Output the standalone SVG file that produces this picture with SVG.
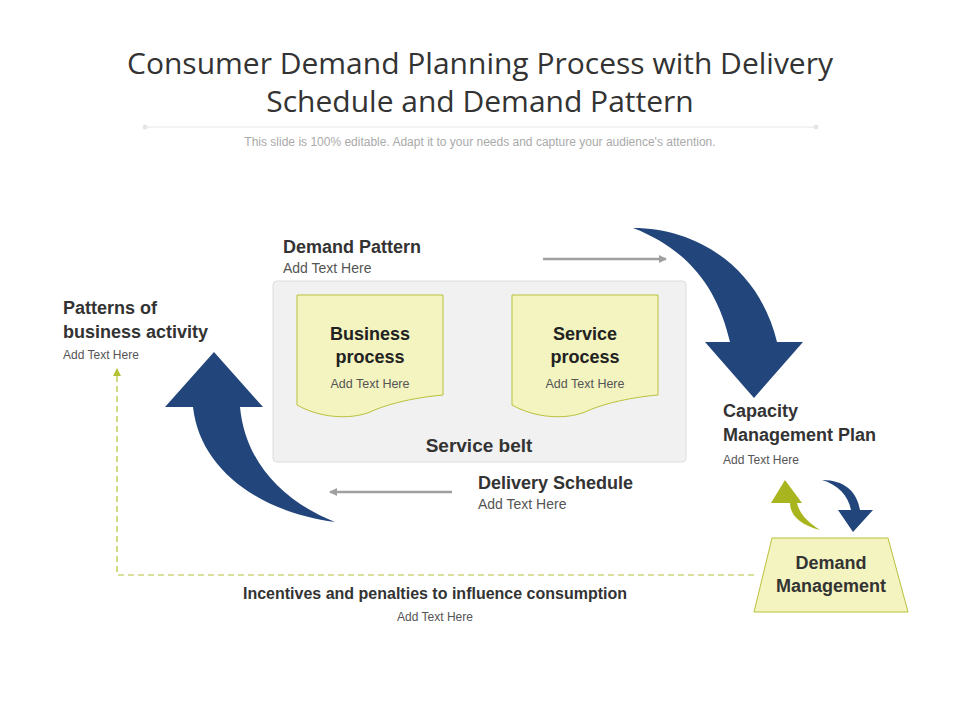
<svg xmlns="http://www.w3.org/2000/svg" width="960" height="720" viewBox="0 0 960 720">
<style>
text{font-family:"Liberation Sans",Arial,sans-serif;fill:#333}
.h{font-weight:bold;font-size:18px}
.s{font-size:12.5px;fill:#555}
.t{font-size:12px;fill:#555}
.doc{fill:#f3f4bf;stroke:#b9c13c;stroke-width:1}
.blue{fill:#22467b}
</style>
<defs>
<marker id="ga" markerWidth="8" markerHeight="8" refX="7" refY="4" orient="auto" markerUnits="userSpaceOnUse"><path d="M0,0 L8,4 L0,8 Z" fill="#a0a0a0"/></marker>
<marker id="ya" markerWidth="8" markerHeight="8" refX="7" refY="4" orient="auto" markerUnits="userSpaceOnUse"><path d="M0,0 L8,4 L0,8 Z" fill="#b5c235"/></marker>
</defs>
<rect width="960" height="720" fill="#fff"/>
<g id="title">
<text x="480" y="74" text-anchor="middle" style="font-family:'Open Sans',sans-serif;font-size:30px;fill:#333">Consumer Demand Planning Process with Delivery</text>
<text x="480" y="112" text-anchor="middle" style="font-family:'Open Sans',sans-serif;font-size:30px;fill:#333">Schedule and Demand Pattern</text>
<line x1="145" y1="127" x2="816" y2="127" stroke="#e6e6e6" stroke-width="1"/>
<circle cx="145" cy="127" r="2.5" fill="#e6e6e6"/><circle cx="816" cy="127" r="2.5" fill="#e6e6e6"/>
<text x="480" y="146" text-anchor="middle" style="font-size:12px;fill:#aaa">This slide is 100% editable. Adapt it to your needs and capture your audience's attention.</text>
</g>
<g id="service-belt">
<rect x="273" y="281" width="413" height="181" rx="4" fill="#f1f1f1" stroke="#dcdcdc"/>
<text x="479" y="452" text-anchor="middle" class="h" style="font-size:19px">Service belt</text>
</g>
<g id="business-process">
<path class="doc" d="M297,295 H443 V395 C410,398 385,405 370,412 C350,420 320,418 297,405 Z"/>
<text x="370" y="340" text-anchor="middle" class="h" style="fill:#222">Business</text>
<text x="370" y="363" text-anchor="middle" class="h" style="fill:#222">process</text>
<text x="370" y="388" text-anchor="middle" class="s">Add Text Here</text>
</g>
<g id="service-process">
<path class="doc" d="M512,295 H658 V395 C625,398 600,405 585,412 C565,420 535,418 512,405 Z"/>
<text x="585" y="340" text-anchor="middle" class="h" style="fill:#222">Service</text>
<text x="585" y="363" text-anchor="middle" class="h" style="fill:#222">process</text>
<text x="585" y="388" text-anchor="middle" class="s">Add Text Here</text>
</g>
<g id="demand-pattern">
<text x="283" y="253" class="h">Demand Pattern</text>
<text x="283" y="273" class="s" style="font-size:14px">Add Text Here</text>
</g>
<g id="delivery-schedule">
<text x="478" y="489" class="h">Delivery Schedule</text>
<text x="478" y="509" class="s" style="font-size:14px">Add Text Here</text>
</g>
<g id="patterns">
<text x="63" y="314" class="h">Patterns of</text>
<text x="63" y="338" class="h">business activity</text>
<text x="63" y="359" class="t">Add Text Here</text>
</g>
<g id="capacity">
<text x="723" y="417" class="h">Capacity</text>
<text x="723" y="441" class="h">Management Plan</text>
<text x="723" y="464" class="t">Add Text Here</text>
</g>
<g id="demand-management">
<path d="M772,538 H888 L908,612 H754 Z" fill="#f3f4bf" stroke="#b9c13c"/>
<text x="831" y="569" text-anchor="middle" class="h">Demand</text>
<text x="831" y="592" text-anchor="middle" class="h">Management</text>
</g>
<g id="incentives">
<text x="435" y="599" text-anchor="middle" style="font-weight:bold;font-size:16px;fill:#333">Incentives and penalties to influence consumption</text>
<text x="435" y="621" text-anchor="middle" class="t">Add Text Here</text>
</g>
<g id="connectors">
<line x1="543" y1="259" x2="666" y2="259" stroke="#a0a0a0" stroke-width="2.5" marker-end="url(#ga)"/>
<line x1="452" y1="492" x2="330" y2="492" stroke="#a0a0a0" stroke-width="2.5" marker-end="url(#ga)"/>
<path d="M754,575 H117 V369" fill="none" stroke="#b5c235" stroke-width="1.2" stroke-dasharray="6,4" marker-end="url(#ya)"/>
<path class="blue" d="M633,228 C700,228 760,270 777,342 L803,342 L754,398 L705,342 L730,342 C718,290 690,250 633,228 Z"/>
<path class="blue" d="M335,522 C260,512 200,470 193,407 L165,407 L214,352 L263,407 L240,407 C245,460 280,500 335,522 Z"/>
<path fill="#a9b51f" d="M820,530 C800,525 790,515 790,503 L771,503 L785,480 L802,503 L797,503 C800,515 808,522 820,530 Z"/>
<path class="blue" d="M822,480 C845,480 857,492 860,510 L873,510 L853,532 L838,510 L851,510 C848,495 838,485 822,480 Z"/>
</g>
</svg>
